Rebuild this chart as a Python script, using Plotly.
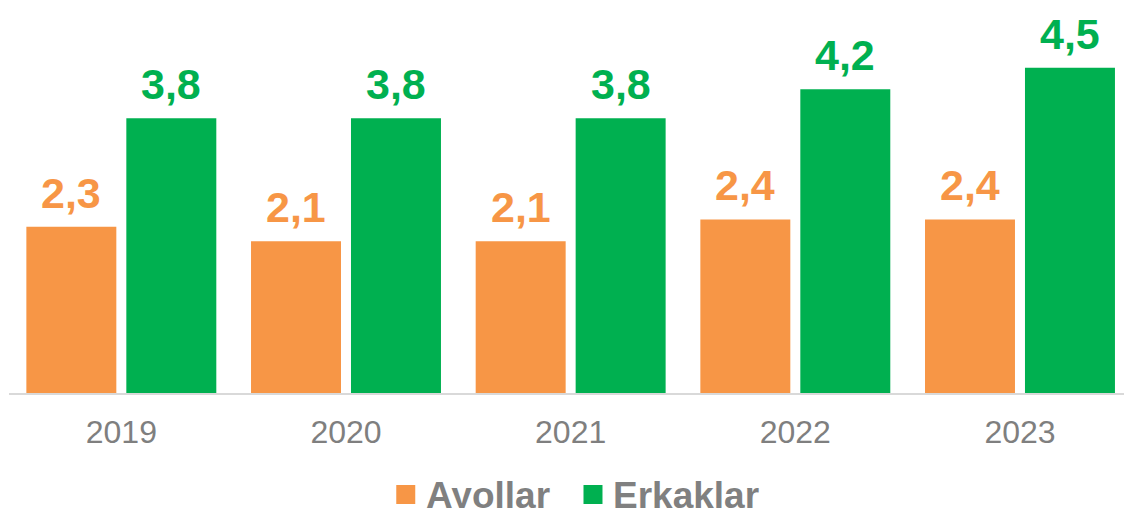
import plotly.graph_objects as go

years = ["2019", "2020", "2021", "2022", "2023"]
ayollar = [2.3, 2.1, 2.1, 2.4, 2.4]
erkaklar = [3.8, 3.8, 3.8, 4.2, 4.5]
series_names = ["Ayollar", "Erkaklar"]
colors = ["#F79646", "#00B050"]

W, H = 1124, 508
ml, mr, mt, mb = 8.6, 0, 0, 115
plot_w, plot_h = W - ml - mr, H - mt - mb


def px_x(x):
    return (x - ml) / plot_w


def px_y(y):
    return (H - mb - y) / plot_h


fig = go.Figure()
for name, vals, c in zip(series_names, [ayollar, erkaklar], colors):
    fig.add_trace(go.Bar(x=years, y=vals, name=name, showlegend=False,
                         marker=dict(color=c, line=dict(width=0))))

offsets = [-0.2225, 0.2225]
for vals, c, off in zip([ayollar, erkaklar], colors, offsets):
    for i, v in enumerate(vals):
        fig.add_annotation(x=i + off, y=v, xref="x", yref="y", text=f"{v:.1f}".replace(".", ","),
                           showarrow=False, yanchor="bottom", yshift=8,
                           font=dict(family="Liberation Sans, Arial", size=43, color=c, weight="bold"))

# legend drawn manually (marker squares + labels)
legend_marker_x = [396, 583.3]
legend_text_x = [424, 611]
for name, c, mx, tx in zip(series_names, colors, legend_marker_x, legend_text_x):
    fig.add_shape(type="rect", xref="paper", yref="paper",
                  x0=px_x(mx), x1=px_x(mx + 19), y0=px_y(504), y1=px_y(485),
                  fillcolor=c, line=dict(width=0))
    fig.add_annotation(x=px_x(tx), y=px_y(495.5), xref="paper", yref="paper", text=name,
                       showarrow=False, xanchor="left", yanchor="middle",
                       font=dict(family="Liberation Sans, Arial", size=37, color="#808080", weight="bold"))

fig.update_layout(
    width=W, height=H,
    margin=dict(l=ml, r=mr, t=mt, b=mb, pad=0, autoexpand=False),
    plot_bgcolor="white", paper_bgcolor="white",
    barmode="group", bargap=0.11, bargroupgap=0.1,
    xaxis=dict(type="category", range=[-0.5, 4.463], showline=True, linecolor="#D9D9D9", linewidth=2,
               ticks="", showgrid=False, tickfont=dict(family="Liberation Sans, Arial", size=32, color="#7F7F7F"),
               ticklabelstandoff=10, automargin=False),
    yaxis=dict(range=[0, 5.436], visible=False, showgrid=False, zeroline=False),
    showlegend=False,
)
fig.write_html("out.html", config={"displayModeBar": False},
               post_script="document.body.style.margin='0';document.body.style.overflow='hidden';")
